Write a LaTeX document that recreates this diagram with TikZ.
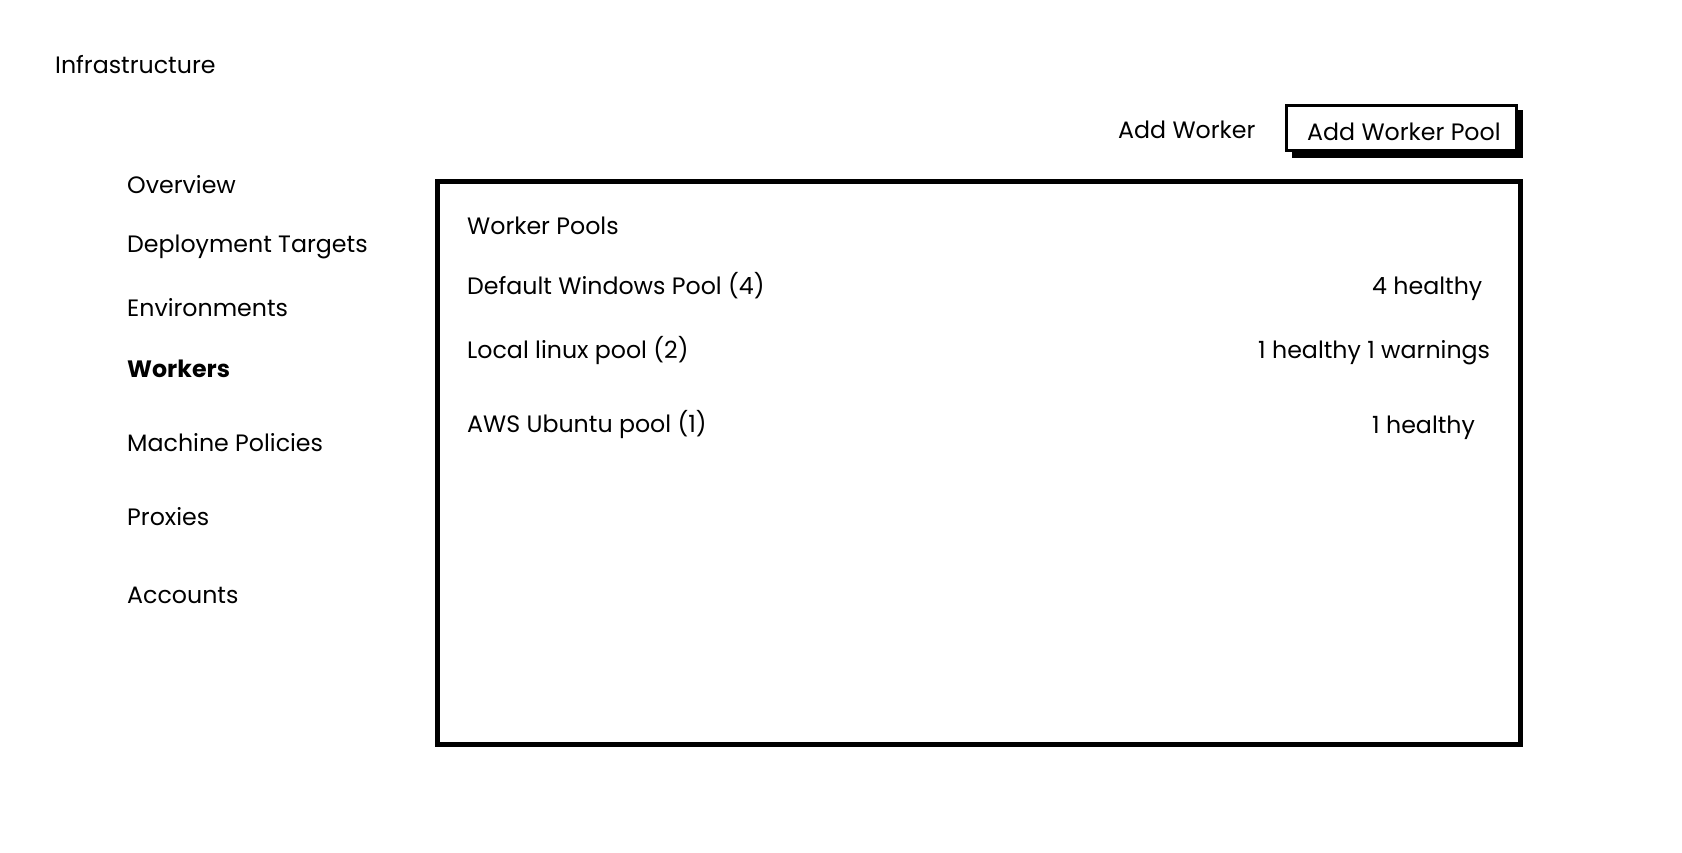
\documentclass[tikz,border=0pt]{standalone}
\usepackage{fontspec}
\setmainfont{Poppins}
\begin{document}
\begin{tikzpicture}[x=1pt,y=-1pt,
  lbl/.style={anchor=base west,inner sep=0pt,font=\fontsize{23.7}{26}\selectfont},
  boldlbl/.style={lbl,font=\fontsize{23.7}{26}\selectfont\bfseries}]
\useasboundingbox[fill=white] (0,0) rectangle (1682,852);
% main panel
\draw[line width=5pt] (437.5,181) rectangle (1520,744) coordinate (panelse);
\node (panel) at (978,462) {};
% button with shadow
\fill[black] (1292,110) rectangle (1523,158);
\draw[line width=3pt,fill=white] (1286.5,105.5) rectangle (1516.5,150.5);
\node[lbl] (addpool) at (1307,140) {Add Worker Pool};
\node[lbl] (addworker) at (1118,138) {Add Worker};
% title
\node[lbl] (infra) at (55,73) {Infrastructure};
% sidebar
\node[lbl] (overview) at (127,193) {Overview};
\node[lbl] (targets) at (127,252) {Deployment Targets};
\node[lbl] (envs) at (127,316) {Environments};
\node[boldlbl] (workers) at (127,377) {Workers};
\node[lbl] (policies) at (127,451) {Machine Policies};
\node[lbl] (proxies) at (127,525) {Proxies};
\node[lbl] (accounts) at (127,603) {Accounts};
% panel content
\node[lbl] (wp) at (467,234) {Worker Pools};
\node[lbl] (p1) at (467,294) {Default Windows Pool (4)};
\node[lbl] (p2) at (467,358) {Local linux pool (2)};
\node[lbl] (p3) at (467,432) {AWS Ubuntu pool (1)};
\node[lbl] (s1) at (1372,294) {4 healthy};
\node[lbl] (s2) at (1258,358) {1 healthy 1 warnings};
\node[lbl] (s3) at (1372,433) {1 healthy};
\end{tikzpicture}
\end{document}
